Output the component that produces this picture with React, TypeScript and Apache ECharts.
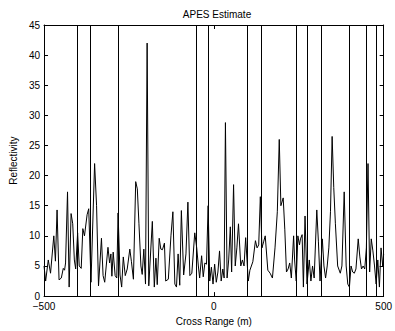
import React, { useEffect, useRef } from "react";
import * as echarts from "echarts";

const TITLE = "APES Estimate";
const X_LABEL = "Cross Range (m)";
const Y_LABEL = "Reflectivity";

// Cross-range positions (m) of the marked scatterers (vertical lines)
const markerPositions = [-401, -365, -281, -51, -15, 99, 139, 244, 274, 315, 399, 449, 479];

// Estimated profile: cross-range (m)
const crossRange = [
  -500, -495.2, -487.5, -480.8, -471.2, -466.4, -461.6, -455.8, -449.1, -443.3,
  -439.5, -436.6, -430.8, -426.0, -420.3, -415.5, -410.7, -406.8, -401.1, -396.3,
  -390.5, -385.7, -380.9, -373.2, -368.4, -361.7, -351.1, -345.3, -339.6, -330.9,
  -326.1, -321.3, -311.7, -306.9, -303.1, -300.2, -296.4, -290.6, -285.8, -282.0,
  -276.2, -271.4, -266.6, -260.8, -255.0, -247.4, -242.6, -236.8, -230.1, -225.3,
  -220.5, -214.7, -210.9, -206.1, -201.2, -196.4, -191.6, -181.1, -175.3, -170.5,
  -166.7, -160.9, -156.1, -151.3, -145.5, -141.7, -134.0, -126.3, -120.6, -114.8,
  -110.0, -105.2, -100.4, -95.6, -88.9, -82.1, -76.4, -70.6, -64.8, -56.2,
  -50.4, -45.6, -41.8, -36.0, -31.2, -26.4, -21.6, -16.8, -12.0, -7.2,
  -2.4, 2.4, 7.2, 12.0, 16.8, 21.6, 26.4, 30.3, 34.1, 39.0,
  43.7, 48.5, 52.4, 58.1, 63.0, 67.8, 72.6, 79.3, 84.1, 88.9,
  93.7, 101.4, 106.2, 114.8, 122.5, 127.3, 132.1, 136.9, 141.7, 146.5,
  151.3, 159.0, 165.7, 172.5, 180.1, 186.9, 192.6, 197.4, 204.2, 209.0,
  213.8, 218.6, 223.4, 228.2, 234.9, 237.8, 242.6, 247.4, 252.2, 255.1,
  259.9, 263.7, 268.5, 274.3, 281.0, 285.8, 290.6, 295.4, 303.1, 307.9,
  312.7, 319.4, 324.2, 329.0, 333.8, 338.6, 343.4, 348.3, 353.1, 357.9,
  364.6, 372.3, 377.1, 383.8, 389.6, 394.4, 399.2, 404.0, 408.8, 413.6,
  418.4, 425.1, 429.9, 434.7, 439.5, 444.3, 449.1, 453.9, 458.7, 463.5,
  468.3, 473.1, 477.9, 482.7, 487.5, 492.3, 497.1, 500
];

// Estimated profile: reflectivity
const reflectivity = [
  5, 2.5, 6, 3.8, 10, 5.8, 14.3, 2.7, 3, 4.6,
  4.3, 5.5, 17.3, 1.5, 13.7, 12, 6, 4.5, 10.5, 5,
  4.6, 11.2, 10, 13.5, 14.5, 2.3, 22, 15, 1.7, 9.6,
  3.4, 2.3, 8.1, 5.5, 7, 3.3, 7.3, 3.4, 3, 13.8,
  3.5, 1.5, 6.5, 3.4, 4.5, 7.8, 5.7, 2.8, 19, 17.8,
  12, 5, 3.6, 7.8, 2, 42, 1.7, 12.4, 1.5, 6.3,
  1.9, 9.6, 7.8, 7.7, 8.8, 2.5, 2.8, 10, 14, 2,
  1.5, 7, 1.8, 14.2, 3.5, 7, 15.6, 3.4, 3.8, 10.5,
  8, 5, 3, 6.7, 3.2, 5.5, 5.3, 15, 2.5, 4.8,
  2, 5.3, 2.3, 4, 7.5, 2.5, 4.5, 3, 28.8, 3,
  6, 11.5, 4, 18.5, 5, 8, 12, 5, 6, 5,
  9.7, 2.5, 4.3, 5.7, 9.2, 8, 8.5, 16.5, 8, 9,
  10, 4.3, 3.8, 3, 8, 14, 26, 15, 16.3, 11,
  4, 4.5, 5.5, 3, 10, 6, 2.5, 10, 8.5, 9.5,
  10.2, 1.5, 13.3, 2, 6, 2.5, 5, 3, 14.3, 9,
  2.5, 9.5, 5, 3, 5, 8, 14, 26.5, 18, 12,
  5, 3.8, 5, 17.3, 5, 2, 1.5, 5, 4, 3.8,
  4.5, 9.5, 6.5, 4.5, 5, 4.5, 8, 22, 4, 9.5,
  7.5, 5, 2, 6, 1.5, 8, 5, 7
];

const FONT = "'Liberation Sans', Arial, Helvetica, sans-serif";

export default function App() {
  const ref = useRef<HTMLDivElement>(null);

  useEffect(() => {
    if (!ref.current) return;
    const chart = echarts.init(ref.current, null, { renderer: "svg" });
    const data = crossRange.map((x, i) => [x, reflectivity[i]]);
    const minus = (v: number) => String(v).replace("-", "\u2212");

    const axisLine = { show: true, onZero: false, lineStyle: { color: "#000", width: 1 } };
    const axisTick = { show: true, inside: true, length: 4, lineStyle: { color: "#000", width: 1 } };

    chart.setOption({
      animation: false,
      backgroundColor: "#fff",
      title: {
        text: TITLE,
        left: 212,
        top: 4,
        textAlign: "center",
        textStyle: { fontFamily: FONT, fontSize: 10, fontWeight: "normal", color: "#000" },
      },
      grid: { left: 39, right: 9, top: 25, bottom: 32, containLabel: false },
      xAxis: [
        {
          type: "value",
          min: -500,
          max: 500,
          interval: 500,
          position: "bottom",
          axisLine,
          axisTick,
          splitLine: { show: false },
          axisLabel: {
            color: "#000",
            fontFamily: FONT,
            fontSize: 10,
            margin: 5,
            formatter: minus,
          },
          name: X_LABEL,
          nameLocation: "middle",
          nameGap: 19,
          nameTextStyle: { color: "#000", fontFamily: FONT, fontSize: 10 },
        },
        {
          type: "value",
          min: -500,
          max: 500,
          interval: 500,
          position: "top",
          axisLine,
          axisTick,
          splitLine: { show: false },
          axisLabel: { show: false },
        },
      ],
      yAxis: [
        {
          type: "value",
          min: 0,
          max: 45,
          interval: 5,
          position: "left",
          axisLine,
          axisTick,
          splitLine: { show: false },
          axisLabel: { color: "#000", fontFamily: FONT, fontSize: 10, margin: 4 },
          name: Y_LABEL,
          nameLocation: "middle",
          nameGap: 22,
          nameRotate: 90,
          nameTextStyle: { color: "#000", fontFamily: FONT, fontSize: 10 },
        },
        {
          type: "value",
          min: 0,
          max: 45,
          interval: 5,
          position: "right",
          axisLine,
          axisTick,
          splitLine: { show: false },
          axisLabel: { show: false },
        },
      ],
      series: [
        {
          type: "line",
          data,
          xAxisIndex: 0,
          yAxisIndex: 0,
          showSymbol: false,
          symbol: "none",
          lineStyle: { color: "#000", width: 1 },
          markLine: {
            silent: true,
            symbol: "none",
            label: { show: false },
            lineStyle: { color: "#000", width: 1, type: "solid" },
            data: markerPositions.map((x) => ({ xAxis: x })),
          },
        },
      ],
    });
    return () => chart.dispose();
  }, []);

  return <div ref={ref} style={{ width: 395, height: 331, position: "absolute", left: 0, top: 0 }} />;
}
